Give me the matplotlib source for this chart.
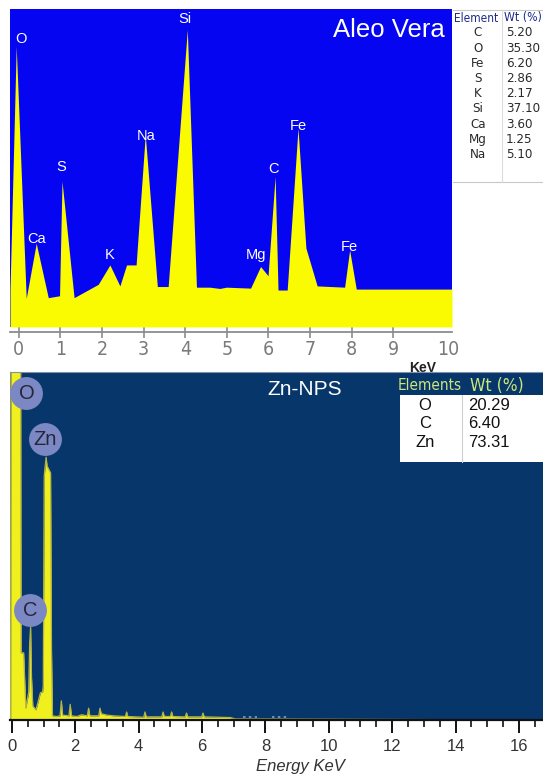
import matplotlib
matplotlib.use("Agg")
import matplotlib.pyplot as plt
from matplotlib import font_manager
from matplotlib.patches import Rectangle
from matplotlib.lines import Line2D
import matplotlib.transforms as mtransforms

_fonts = font_manager.fontManager.ttflist
_names = {f.name for f in _fonts}
_has_dv_cond = any(f.name == 'DejaVu Sans' and f.stretch in ('condensed', 'semi-condensed', 600, 500)
                   and f.stretch != 'normal' for f in _fonts)
if 'Liberation Sans Narrow' in _names:
    NARROW = dict(family=['Liberation Sans Narrow'])
elif _has_dv_cond:
    NARROW = dict(family=['DejaVu Sans'], stretch='condensed')
else:
    NARROW = dict(family=['Liberation Sans'])
SANS = 'Liberation Sans'
plt.rcParams['font.family'] = [SANS, 'DejaVu Sans']

# ---------------- data: top spectrum (Aleo Vera) ----------------
top_energy = [-0.21, -0.06, 0.18, 0.42, 0.71, 0.98, 1.04, 1.33, 1.91, 2.19, 2.43, 2.59,
              2.82, 3.04, 3.33, 3.59, 4.05, 4.27, 4.59, 4.83, 4.99, 5.57, 5.81, 5.99,
              6.16, 6.23, 6.45, 6.71, 6.90, 7.17, 7.83, 7.95, 8.11, 10.41]
top_counts = [11.6, 88.2, 9.0, 26.3, 9.2, 9.8, 45.8, 9.2, 13.4, 19.5, 12.9, 19.5,
              19.5, 60.4, 12.7, 12.7, 93.5, 12.5, 12.5, 12.1, 12.5, 12.2, 19.0, 16.1,
              47.3, 11.6, 11.6, 62.5, 24.8, 12.9, 12.5, 24.2, 11.9, 11.9]
top_peak_labels = ['O', 'Ca', 'S', 'K', 'Na', 'Si', 'Mg', 'C', 'Fe', 'Fe']
top_peak_energy = [0.05, 0.43, 1.01, 2.19, 3.07, 3.99, 5.71, 6.13, 6.72, 7.95]
top_peak_level = [90.6, 27.6, 50.3, 22.7, 59.9, 96.9, 22.7, 49.6, 63.3, 25.1]
top_ticks = [0, 1, 2, 3, 4, 5, 6, 7, 8, 9, 10]
top_tick_labels = ['0', '1', '2', '3', '4', '5', '6', '7', '8', '9', '10']
top_table_elements = ['C', 'O', 'Fe', 'S', 'K', 'Si', 'Ca', 'Mg', 'Na']
top_table_wt = ['5.20', '35.30', '6.20', '2.86', '2.17', '37.10', '3.60', '1.25', '5.10']

# ---------------- data: bottom spectrum (Zn-NPS) ----------------
bot_energy = [-0.06, -0.04, -0.03, 0.27, 0.29, 0.37, 0.44, 0.53, 0.56, 0.59, 0.62, 0.66,
              0.76, 0.90, 0.97, 0.99, 1.02, 1.05, 1.08, 1.11, 1.22, 1.25, 1.28,
              1.40, 1.52, 1.56, 1.60, 1.80, 1.84, 1.88, 2.05, 2.20, 2.38, 2.42, 2.46,
              2.74, 2.78, 2.82, 3.00, 3.20, 3.58, 3.62, 3.66, 4.16, 4.20, 4.24,
              4.73, 4.77, 4.81, 5.00, 5.04, 5.08, 5.47, 5.51, 5.55, 5.99, 6.03, 6.07,
              6.90, 7.05, 16.76]
bot_counts = [0.5, 0.5, 140, 140, 19.3, 19.3, 3.4, 8.0, 22.0, 26.7, 12.0, 4.0,
              2.9, 7.8, 8.1, 10.0, 70.0, 73.0, 75.5, 73.0, 71.0, 20.0, 1.2,
              1.0, 1.2, 5.5, 1.4, 1.2, 4.5, 1.2, 1.0, 1.5, 1.2, 3.4, 1.2,
              1.2, 3.4, 1.8, 1.4, 1.2, 1.0, 2.3, 1.0, 0.8, 2.3, 0.9,
              0.9, 2.3, 1.0, 1.0, 2.3, 1.0, 0.9, 2.0, 0.9, 0.9, 2.0, 0.9,
              0.7, 0.3, 0.0]
bot_dot_segments = [(7.3, 7.75), (8.2, 8.7)]
bot_peak_labels = ['O', 'Zn', 'C']
bot_peak_energy = [0.46, 1.04, 0.57]
bot_peak_level = [93.9, 80.7, 31.6]
bot_major_ticks = [0, 2, 4, 6, 8, 10, 12, 14, 16]
bot_table_elements = ['O', 'C', 'Zn']
bot_table_wt = ['20.29', '6.40', '73.31']

W, H = 543, 777
fig = plt.figure(figsize=(W / 100, H / 100), dpi=100)
fig.patch.set_facecolor('white')

def fx(px):
    return px / W

def fy(py):
    return 1 - py / H

BLUE = '#0505f2'
YEL = '#fafa00'

# ---------------- top panel ----------------
ax1 = fig.add_axes([fx(10), fy(332), fx(442), 323 / H])
ax1.set_xlim(-0.21, 10.41)
ax1.set_ylim(-1.6, 100)
ax1.set_facecolor('white')
ax1.fill_between([-0.21, 10.41], 0, 100, color=BLUE, lw=0, zorder=1)
ax1.fill_between(top_energy, 0, top_counts, color=YEL, lw=0, zorder=2)
for lab, e, v in zip(top_peak_labels, top_peak_energy, top_peak_level):
    ax1.text(e, v, lab, color='white', fontsize=10.5, ha='center', va='center',
             family=[SANS], zorder=3)
ax1.text(10.23, 93.3, 'Aleo Vera', color='white', fontsize=18.5, ha='right',
         va='center', family=[SANS], zorder=3)
for s in ['top', 'left', 'right']:
    ax1.spines[s].set_visible(False)
ax1.spines['bottom'].set_color('#8c8c8c')
ax1.spines['bottom'].set_linewidth(1.3)
ax1.set_yticks([])
ax1.set_xticks(top_ticks)
ax1.set_xticklabels(top_tick_labels)
ax1.tick_params(axis='x', direction='inout', length=8, width=1.2, color='#8c8c8c',
                labelcolor='#7a7a7a', labelsize=14, pad=2)
for lbl in ax1.get_xticklabels():
    lbl.set_fontproperties(font_manager.FontProperties(size=14, **NARROW))
last = ax1.get_xticklabels()[-1]
last.set_transform(last.get_transform() +
                   mtransforms.ScaledTranslation(13 / 100, 0, fig.dpi_scale_trans))
ax1.xaxis.get_major_ticks()[-1].tick1line.set_visible(False)

fig.text(fx(423), fy(368), 'KeV', fontsize=10, fontweight='bold', color='#222222',
         ha='center', va='center', zorder=-1)

# top table
tab_col = '#c8c8c8'
fig.add_artist(Line2D([fx(453), fx(543)], [fy(9.5), fy(9.5)], color=tab_col, lw=0.8))
fig.add_artist(Line2D([fx(453), fx(543)], [fy(182), fy(182)], color=tab_col, lw=0.8))
fig.add_artist(Line2D([fx(502), fx(502)], [fy(9.5), fy(182)], color='#dcdcdc', lw=0.8))
fig.text(fx(476), fy(18), 'Element', fontsize=8.5, color='#1c2a8a', ha='center',
         va='center', **NARROW)
fig.text(fx(504), fy(18), 'Wt (%)', fontsize=8.8, color='#1c2a8a', ha='left',
         va='center', **NARROW)
for i, (el, wt) in enumerate(zip(top_table_elements, top_table_wt)):
    yy = 33 + i * 15.2
    fig.text(fx(478), fy(yy), el, fontsize=9.5, color='#2a2a2a', ha='center',
             va='center', **NARROW)
    fig.text(fx(506), fy(yy), wt, fontsize=9.5, color='#2a2a2a', ha='left',
             va='center', **NARROW)

# ---------------- bottom panel ----------------
NAVY = '#07366b'
ax2 = fig.add_axes([fx(10), fy(720), fx(533), 348 / H])
ax2.set_facecolor(NAVY)
ax2.set_xlim(-0.06, 16.76)
ax2.set_ylim(0, 100)
ax2.fill_between(bot_energy, 0, bot_counts, color='#f0f01e', lw=0, zorder=2)
ax2.plot(bot_energy, bot_counts, color='#b4b446', lw=0.9, zorder=2.5)
for a, b in bot_dot_segments:
    ax2.plot([a, b], [1.0, 1.0], ls=(0, (1.5, 2.0)), color='#8a9ab8', lw=1.2, zorder=2)
ax2.scatter(bot_peak_energy, bot_peak_level, s=560, color='#7b88c4', lw=0, zorder=4,
            clip_on=False)
for lab, e, v in zip(bot_peak_labels, bot_peak_energy, bot_peak_level):
    ax2.text(e, v, lab, color='#262638', fontsize=14.5, ha='center', va='center',
             zorder=5, family=[SANS])
ax2.text(9.24, 95.1, 'Zn-NPS', color='white',
         fontsize=15, ha='center', va='center', family=[SANS], zorder=3)
for s in ['left', 'right']:
    ax2.spines[s].set_visible(False)
ax2.spines['top'].set_color('#8090a8')
ax2.spines['top'].set_linewidth(0.8)
ax2.spines['bottom'].set_color('#111111')
ax2.spines['bottom'].set_linewidth(1.6)
ax2.set_yticks([])
ax2.set_xticks(bot_major_ticks)
ax2.set_xticks([t * 0.5 for t in range(0, 34)], minor=True)
ax2.tick_params(axis='x', which='major', direction='out', length=9, width=1.4,
                color='#111111', labelcolor='#333333', labelsize=12, pad=5)
ax2.tick_params(axis='x', which='minor', direction='out', length=5, width=1.2,
                color='#111111')
ax2.set_xlabel('Energy KeV', fontsize=12, style='italic', color='#333333')
ax2.xaxis.set_label_coords((300 - 10) / 533, (720 - 759) / 348)

# bottom table
fig.add_artist(Rectangle((fx(400), fy(462)), fx(143), (462 - 395) / H,
                         facecolor='white', edgecolor='none', zorder=6))
fig.add_artist(Line2D([fx(462), fx(462)], [fy(395), fy(462)], color='#cfcfcf',
                      lw=0.8, zorder=7))
fig.text(fx(430), fy(386), 'Elements', fontsize=11, color='#cde67a', ha='center',
         va='center', zorder=7, **NARROW)
fig.text(fx(470), fy(386), 'Wt (%)', fontsize=12.5, color='#cde67a', ha='left',
         va='center', zorder=7, **NARROW)
for i, (el, wt) in enumerate(zip(bot_table_elements, bot_table_wt)):
    yy = 405.7 + i * 18.3
    fig.text(fx(425), fy(yy), el, fontsize=12, color='#111111', ha='center',
             va='center', family=[SANS], zorder=7)
    fig.text(fx(468), fy(yy), wt, fontsize=12, color='#111111', ha='left',
             va='center', family=[SANS], zorder=7)

fig.savefig('out.png', dpi=100)
